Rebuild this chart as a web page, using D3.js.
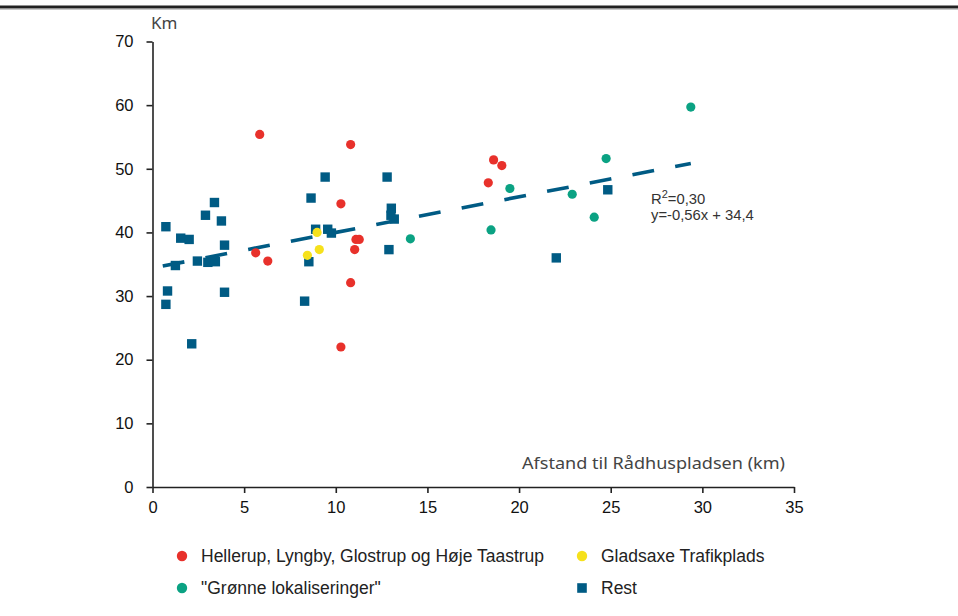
<!DOCTYPE html>
<html>
<head>
<meta charset="utf-8">
<script src="https://cdn.jsdelivr.net/npm/d3@7"></script>
<style>
  html, body { margin: 0; padding: 0; background: #fff; }
  svg { display: block; }
</style>
</head>
<body>
<svg id="chart" width="958" height="616"></svg>
<script>
// ---- DATA ----
const xTicks = [0, 5, 10, 15, 20, 25, 30, 35];
const yTicks = [0, 10, 20, 30, 40, 50, 60, 70];

// Hellerup, Lyngby, Glostrup og Høje Taastrup (red)
const redX = [5.85, 10.81, 10.28, 5.63, 6.29, 11.1, 11.28, 11.03, 10.81, 10.28, 18.32, 18.61, 19.06];
const redY = [55.4, 53.8, 44.5, 36.8, 35.5, 38.9, 38.9, 37.3, 32.1, 22.0, 47.8, 51.4, 50.5];

// Gladsaxe Trafikplads (yellow)
const yellowX = [8.98, 9.1, 8.45];
const yellowY = [40.0, 37.3, 36.4];

// "Grønne lokaliseringer" (green)
const greenX = [14.07, 19.5, 18.47, 22.9, 24.1, 24.75, 29.37];
const greenY = [39.0, 46.9, 40.4, 46.0, 42.4, 51.6, 59.7];

// Rest (blue squares)
const restX = [0.73, 0.82, 0.73, 1.25, 1.54, 2.0, 2.14, 2.45, 2.89, 3.02, 3.38, 3.43, 3.76, 3.93, 3.93,
               8.3, 8.53, 8.65, 8.9, 9.42, 9.56, 9.76, 12.8, 13.03, 13.01, 13.19, 12.9, 22.03, 24.84];
const restY = [40.9, 30.8, 28.7, 34.8, 39.1, 38.9, 22.5, 35.5, 42.7, 35.3, 44.7, 35.4, 41.8, 38.0, 30.6,
               29.2, 35.4, 45.4, 40.5, 48.7, 40.5, 39.9, 48.7, 43.8, 42.7, 42.1, 37.3, 36.0, 46.7];

// Regression: y = 0.56x + 34.4 (as printed in chart)
const regSlope = 0.56, regIntercept = 34.4;
const regXRange = [0.56, 29.37];

const legendItems = [
  { label: "Hellerup, Lyngby, Glostrup og Høje Taastrup", color: "#e8312b", shape: "circle" },
  { label: "Gladsaxe Trafikplads", color: "#f6e11c", shape: "circle" },
  { label: "\"Grønne lokaliseringer\"", color: "#0ba283", shape: "circle" },
  { label: "Rest", color: "#005b84", shape: "square" }
];

// ---- CHART ----
const svg = d3.select("#chart");
const x = d3.scaleLinear().domain([0, 35]).range([152.5, 794]);
const y = d3.scaleLinear().domain([0, 70]).range([487, 41.5]);

// top rule
svg.append("line").attr("x1", 0).attr("x2", 958).attr("y1", 7).attr("y2", 7)
  .attr("stroke", "#222").attr("stroke-width", 3);
svg.append("line").attr("x1", 0).attr("x2", 958).attr("y1", 9.5).attr("y2", 9.5)
  .attr("stroke", "#c8c8c8").attr("stroke-width", 1);

const axisColor = "#222";
const tickFont = "Liberation Sans, Arial, sans-serif";

const xAxis = svg.append("g").attr("transform", `translate(0,${y(0)})`)
  .call(d3.axisBottom(x).tickValues(xTicks).tickSize(6).tickPadding(8).tickSizeOuter(0));
const yAxis = svg.append("g").attr("transform", `translate(${x(0)},0)`)
  .call(d3.axisLeft(y).tickValues(yTicks).tickSize(6).tickPadding(13).tickSizeOuter(0));

[xAxis, yAxis].forEach(g => {
  g.select(".domain").attr("stroke", axisColor).attr("stroke-width", 1.6);
  g.selectAll(".tick line").attr("stroke", axisColor).attr("stroke-width", 1.6);
  g.selectAll(".tick text").attr("fill", "#111").style("font-family", tickFont).style("font-size", "16.5px");
});

// axis titles
svg.append("text").attr("x", 151).attr("y", 29).text("Km")
  .style("font-family", "Noto Sans, sans-serif").style("font-size", "17px").attr("fill", "#444");
svg.append("text").attr("x", 785).attr("y", 469).attr("text-anchor", "end")
  .text("Afstand til Rådhuspladsen (km)")
  .attr("textLength", 263).attr("lengthAdjust", "spacingAndGlyphs")
  .style("font-family", "Noto Sans, sans-serif").style("font-size", "17px").attr("fill", "#444");

// regression line
svg.append("line")
  .attr("x1", x(regXRange[0])).attr("y1", y(regSlope * regXRange[0] + regIntercept))
  .attr("x2", x(regXRange[1])).attr("y2", y(regSlope * regXRange[1] + regIntercept))
  .attr("stroke", "#005b84").attr("stroke-width", 3.6).attr("stroke-dasharray", "22,21.5");

// points
const r = 4.6, sq = 9.4;
function circles(xs, ys, color) {
  svg.append("g").selectAll("circle").data(xs.map((v, i) => [v, ys[i]])).join("circle")
    .attr("cx", d => x(d[0])).attr("cy", d => y(d[1])).attr("r", r).attr("fill", color);
}
svg.append("g").selectAll("rect").data(restX.map((v, i) => [v, restY[i]])).join("rect")
  .attr("x", d => x(d[0]) - sq / 2).attr("y", d => y(d[1]) - sq / 2)
  .attr("width", sq).attr("height", sq).attr("fill", legendItems[3].color);
circles(redX, redY, legendItems[0].color);
circles(yellowX, yellowY, legendItems[1].color);
circles(greenX, greenY, legendItems[2].color);

// regression annotation
const ann = svg.append("g").style("font-family", tickFont).style("font-size", "14.8px").attr("fill", "#333");
const t1 = ann.append("text").attr("x", 651).attr("y", 203.5);
t1.append("tspan").text("R");
t1.append("tspan").text("2").attr("dy", -6).style("font-size", "11px");
t1.append("tspan").text("=0,30").attr("dy", 6);
ann.append("text").attr("x", 651).attr("y", 220).text("y=-0,56x + 34,4");

// legend
const legPos = [[182, 556], [582, 556], [182, 588], [582, 588]];
legendItems.forEach((it, i) => {
  const [lx, ly] = legPos[i];
  const g = svg.append("g");
  if (it.shape === "circle") {
    g.append("circle").attr("cx", lx).attr("cy", ly).attr("r", 5.2).attr("fill", it.color);
  } else {
    g.append("rect").attr("x", lx - 4.8).attr("y", ly - 4.8).attr("width", 9.6).attr("height", 9.6).attr("fill", it.color);
  }
  g.append("text").attr("x", lx + 19).attr("y", ly + 6).text(it.label)
    .style("font-family", tickFont).style("font-size", "17.5px").attr("fill", "#222");
});
</script>
</body>
</html>
